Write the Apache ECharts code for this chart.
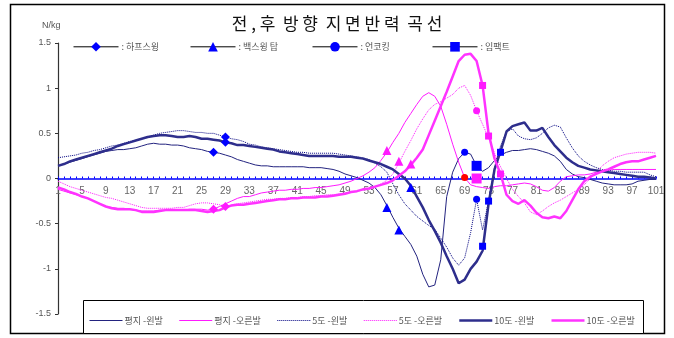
<!DOCTYPE html>
<html>
<head>
<meta charset="utf-8">
<title>전, 후 방향 지면반력 곡선</title>
<script src="https://cdn.jsdelivr.net/npm/echarts@6/dist/echarts.min.js"></script>
<style>
	html, body { margin: 0; padding: 0; background: #fff; }
	#chart { width: 674px; height: 338px; }
</style>
</head>
<body>
<div id="chart"></div>
<script>
// x축: 1 ~ 101
var categories = [];
for (var i = 1; i <= 101; i++) categories.push(String(i));

var yTicks = [-1.5, -1, -0.5, 0, 0.5, 1, 1.5];

// 평지-왼발
var flatLeft = [
	0.14, 0.16, 0.18, 0.20, 0.22, 0.24, 0.26, 0.28, 0.30, 0.31,
	0.32, 0.32, 0.33, 0.34, 0.36, 0.38, 0.39, 0.38, 0.38, 0.37,
	0.37, 0.36, 0.34, 0.33, 0.32, 0.30, 0.29, 0.28, 0.26, 0.24,
	0.21, 0.19, 0.17, 0.15, 0.14, 0.14, 0.13, 0.13, 0.13, 0.13,
	0.13, 0.13, 0.12, 0.12, 0.12, 0.11, 0.10, 0.08, 0.05, 0.03,
	0.01, -0.02, -0.05, -0.10, -0.18, -0.30, -0.43, -0.55, -0.64, -0.73,
	-0.86, -1.06, -1.20, -1.18, -0.90, -0.20, 0.07, 0.22, 0.29, 0.27,
	0.14, 0.08, 0.12, 0.20, 0.26, 0.29, 0.31, 0.31, 0.32, 0.33,
	0.32, 0.30, 0.28, 0.25, 0.19, 0.10, 0.05, 0.02, 0.01, -0.01,
	-0.03, -0.05, -0.06, -0.07, -0.07, -0.07, -0.06, -0.03, -0.02, -0.01, -0.01
];
// 평지-오른발
var flatRight = [
	-0.12, -0.14, -0.16, -0.18, -0.20, -0.22, -0.25, -0.28, -0.31, -0.32,
	-0.33, -0.33, -0.34, -0.35, -0.36, -0.36, -0.36, -0.35, -0.35, -0.35,
	-0.35, -0.35, -0.34, -0.34, -0.34, -0.35, -0.34, -0.31, -0.28, -0.25,
	-0.22, -0.20, -0.20, -0.18, -0.16, -0.15, -0.14, -0.13, -0.13, -0.12,
	-0.12, -0.11, -0.11, -0.10, -0.10, -0.09, -0.08, -0.07, -0.05, -0.03,
	0.00, 0.03, 0.07, 0.12, 0.20, 0.29, 0.40, 0.50, 0.62, 0.72,
	0.82, 0.91, 0.95, 0.91, 0.80, 0.60, 0.38, 0.18, 0.01, -0.07,
	-0.09, -0.10, -0.11, -0.09, -0.08, -0.08, -0.07, -0.06, -0.05, -0.06,
	-0.09, -0.13, -0.14, -0.10, -0.03, 0.02, 0.03, 0.04, 0.04, 0.05,
	0.07, 0.08, 0.09, 0.10, 0.10, 0.10, 0.10, 0.10, 0.10, 0.10, 0.10
];
// 5도-왼발
var deg5Left = [
	0.23, 0.24, 0.25, 0.26, 0.28, 0.29, 0.31, 0.32, 0.34, 0.36,
	0.37, 0.39, 0.41, 0.42, 0.44, 0.46, 0.48, 0.50, 0.51, 0.52,
	0.53, 0.53, 0.52, 0.51, 0.51, 0.50, 0.50, 0.48, 0.46, 0.44,
	0.43, 0.41, 0.38, 0.37, 0.35, 0.34, 0.33, 0.32, 0.31, 0.30,
	0.29, 0.29, 0.28, 0.28, 0.28, 0.28, 0.28, 0.27, 0.26, 0.25,
	0.24, 0.23, 0.21, 0.17, 0.13, 0.07, -0.06, -0.18, -0.28, -0.35,
	-0.42, -0.47, -0.52, -0.56, -0.66, -0.76, -0.88, -0.96, -0.88, -0.60,
	-0.23, -0.57, -0.25, 0.12, 0.36, 0.52, 0.55, 0.47, 0.44, 0.43,
	0.45, 0.50, 0.56, 0.59, 0.57, 0.45, 0.34, 0.25, 0.19, 0.15,
	0.12, 0.10, 0.09, 0.08, 0.08, 0.07, 0.07, 0.07, 0.07, 0.04, 0.02
];
// 5도-오른발
var deg5Right = [
	-0.03, -0.06, -0.09, -0.11, -0.13, -0.15, -0.17, -0.19, -0.21, -0.22,
	-0.24, -0.26, -0.28, -0.30, -0.32, -0.33, -0.33, -0.33, -0.33, -0.33,
	-0.32, -0.32, -0.30, -0.28, -0.27, -0.27, -0.28, -0.29, -0.31, -0.29,
	-0.28, -0.27, -0.26, -0.25, -0.24, -0.23, -0.23, -0.22, -0.22, -0.21,
	-0.21, -0.20, -0.20, -0.19, -0.19, -0.18, -0.18, -0.17, -0.16, -0.15,
	-0.14, -0.13, -0.12, -0.10, -0.06, -0.02, 0.05, 0.17, 0.30, 0.42,
	0.55, 0.66, 0.76, 0.82, 0.85, 0.89, 0.93, 1.00, 1.03, 0.92,
	0.75, 0.60, 0.45, 0.28, 0.13, 0.00, -0.12, -0.20, -0.27, -0.37,
	-0.40, -0.36, -0.31, -0.27, -0.24, -0.20, -0.16, -0.12, -0.07, 0.00,
	0.07, 0.14, 0.19, 0.23, 0.25, 0.27, 0.28, 0.29, 0.29, 0.29, 0.28
];
// 10도-왼발
var deg10Left = [
	0.14, 0.16, 0.19, 0.21, 0.23, 0.25, 0.27, 0.29, 0.31, 0.33,
	0.36, 0.38, 0.40, 0.42, 0.44, 0.46, 0.47, 0.48, 0.48, 0.47,
	0.46, 0.46, 0.47, 0.46, 0.44, 0.44, 0.43, 0.42, 0.40, 0.39,
	0.37, 0.37, 0.36, 0.35, 0.34, 0.33, 0.32, 0.30, 0.29, 0.28,
	0.27, 0.26, 0.25, 0.25, 0.25, 0.25, 0.25, 0.24, 0.24, 0.24,
	0.23, 0.22, 0.20, 0.18, 0.16, 0.13, 0.10, 0.05, 0.00, -0.08,
	-0.20, -0.32, -0.46, -0.58, -0.71, -0.86, -1.00, -1.16, -1.12, -1.00,
	-0.92, -0.80, -0.28, 0.10, 0.30, 0.52, 0.58, 0.60, 0.62, 0.53,
	0.53, 0.56, 0.46, 0.37, 0.30, 0.23, 0.18, 0.14, 0.12, 0.10,
	0.09, 0.08, 0.07, 0.06, 0.05, 0.04, 0.03, 0.02, 0.02, 0.01, 0.00
];
// 10도-오른발
var deg10Right = [
	-0.10, -0.12, -0.15, -0.17, -0.20, -0.22, -0.25, -0.28, -0.31, -0.33,
	-0.34, -0.34, -0.34, -0.35, -0.37, -0.37, -0.37, -0.36, -0.35, -0.35,
	-0.35, -0.35, -0.35, -0.35, -0.36, -0.37, -0.36, -0.35, -0.32, -0.30,
	-0.29, -0.29, -0.28, -0.27, -0.26, -0.25, -0.24, -0.23, -0.23, -0.22,
	-0.22, -0.21, -0.21, -0.21, -0.20, -0.20, -0.19, -0.18, -0.17, -0.15,
	-0.14, -0.12, -0.11, -0.09, -0.07, -0.05, -0.02, 0.03, 0.08, 0.15,
	0.23, 0.32, 0.48, 0.64, 0.80, 0.96, 1.13, 1.30, 1.37, 1.38,
	1.30, 1.03, 0.50, 0.22, 0.05, -0.18, -0.25, -0.28, -0.24, -0.30,
	-0.38, -0.43, -0.44, -0.42, -0.44, -0.36, -0.24, -0.12, -0.03, 0.02,
	0.05, 0.08, 0.10, 0.13, 0.16, 0.18, 0.19, 0.19, 0.21, 0.23, 0.25
];

// 이벤트 표시 [x, y]
var halfSwingBlue = [[27, 0.29], [29, 0.40], [29, 0.46]];
var halfSwingPink = [[27, -0.34], [29, -0.31]];
var backTopBlue = [[56, -0.32], [58, -0.57], [60, -0.10]];
var backTopPink = [[56, 0.31], [58, 0.19], [60, 0.16]];
var uncockBlue = [[69, 0.29], [71, -0.23]];
var uncockPink = [[71, 0.75]];
var uncockRed = [[69, 0.01]];
var impactBlue = [[71, 0.14], [72, -0.75], [73, -0.25], [75, 0.29]];
var impactPink = [[71, 0.00], [72, 1.03], [73, 0.47], [75, 0.05]];

var font = '"Noto Sans CJK KR", "Liberation Sans", sans-serif';
var numFont = '"Liberation Sans", sans-serif';
var navy = '#23237f';
var pink = '#ff1aff';
var blue = '#0000ff';

// grid 위치 (x축을 0 위치로 올리기 위해 사용)
var gridTop = 43, gridBottom = 24, chartH = 338;

function curve(name, data, color, width, type) {
	return {
		name: name,
		type: 'line',
		data: data,
		symbol: 'circle',
		showSymbol: false,
		silent: true,
		z: 2,
		itemStyle: { color: color },
		lineStyle: { color: color, width: width, type: type }
	};
}

function marks(name, shape, groups, size) {
	var data = [];
	groups.forEach(function(g) {
		g[0].forEach(function(p) {
			data.push({ value: [p[0] - 1, p[1]], itemStyle: { color: g[1] } });
		});
	});
	data.sort(function(a, b) { return a.value[0] - b.value[0]; });
	return {
		name: name,
		type: 'line',
		data: data,
		symbol: shape,
		symbolSize: size,
		showAllSymbol: true,
		silent: true,
		z: 5,
		itemStyle: { color: blue },
		lineStyle: { opacity: 0 }
	};
}

function markLegend(name, left) {
	return {
		data: [name],
		left: left,
		top: 37,
		itemWidth: 45,
		itemHeight: 12,
		itemGap: 0,
		formatter: ': {name}',
		selectedMode: false,
		lineStyle: { color: '#000', width: 1, opacity: 1, type: 'solid' },
		textStyle: { color: '#555', fontSize: 9, fontFamily: font, padding: [0, 0, 0, -2] }
	};
}

var chart = echarts.init(document.getElementById('chart'));

var plotH = chartH - gridTop - gridBottom;
var zeroOffset = -plotH * (0 - yTicks[0]) / (yTicks[yTicks.length - 1] - yTicks[0]);

var option = {
	animation: false,
	backgroundColor: '#fff',
	title: {
		text: '전 , 후  방 향  지 면 반 력  곡 선',
		left: 'center',
		top: 10,
		textStyle: { fontSize: 17, fontWeight: 'normal', color: '#111', fontFamily: font }
	},
	grid: { left: 58, right: 18, top: gridTop, bottom: gridBottom },
	legend: [{
		data: ['평지 -왼발', '평지 -오른발', '5도 -왼발', '5도 -오른발', '10도 -왼발', '10도 -오른발'],
		left: 84,
		top: 311,
		itemWidth: 33,
		itemHeight: 10,
		itemGap: 16,
		selectedMode: false,
		itemStyle: { opacity: 0 },
		lineStyle: { width: 'inherit' },
		textStyle: { color: '#555', fontSize: 9, fontFamily: font, padding: [0, 0, 0, -3] }
	},
		markLegend('하프스윙', 68),
		markLegend('백스윙 탑', 185),
		markLegend('언코킹', 307),
		markLegend('임팩트', 427)
	],
	xAxis: {
		type: 'category',
		data: categories,
		boundaryGap: false,
		offset: zeroOffset,
		axisLine: { onZero: false, lineStyle: { color: blue, width: 1.5 } },
		axisTick: { show: true, inside: true, interval: 0, length: 2, lineStyle: { color: blue } },
		axisLabel: { interval: 3, color: '#666', fontSize: 10, margin: 8, fontFamily: numFont },
		splitLine: { show: false }
	},
	yAxis: {
		type: 'value',
		min: yTicks[0],
		max: yTicks[yTicks.length - 1],
		interval: 0.5,
		axisLine: { show: true, lineStyle: { color: '#333', width: 1.2 } },
		axisTick: { show: true, length: 3, lineStyle: { color: '#333' } },
		axisLabel: { color: '#555', fontSize: 9, margin: 7, fontFamily: numFont },
		splitLine: { show: false }
	},
	graphic: [{
		type: 'rect',
		z: 0,
		shape: { x: 10.5, y: 4.5, width: 654, height: 329 },
		style: { fill: 'none', stroke: '#000', lineWidth: 1.5 }
	}, {
		type: 'rect',
		z: 1,
		shape: { x: 83.5, y: 300.5, width: 560, height: 33 },
		style: { fill: '#fff', stroke: '#000', lineWidth: 1 }
	}, {
		type: 'text',
		left: 42,
		top: 21,
		style: { text: 'N/kg', fill: '#555', fontSize: 9, fontFamily: numFont }
	}],
	series: [
		curve('평지 -왼발', flatLeft, navy, 1, 'solid'),
		curve('평지 -오른발', flatRight, pink, 1, 'solid'),
		curve('5도 -왼발', deg5Left, '#000080', 1, 'dotted'),
		curve('5도 -오른발', deg5Right, pink, 1, 'dotted'),
		curve('10도 -왼발', deg10Left, '#2e2e8c', 2.5, 'solid'),
		curve('10도 -오른발', deg10Right, '#ff33ff', 2.5, 'solid'),
		marks('하프스윙', 'diamond', [[halfSwingBlue, blue], [halfSwingPink, pink]], 9),
		marks('백스윙 탑', 'triangle', [[backTopBlue, blue], [backTopPink, pink]], 9),
		marks('언코킹', 'circle', [[uncockBlue, blue], [uncockPink, pink], [uncockRed, '#ff0000']], 7),
		marks('임팩트', 'rect', [[impactBlue, blue], [impactPink, pink]], function(v) {
			return v[0] === 70 ? 10 : 7;
		})
	]
};

chart.setOption(option);
</script>
</body>
</html>
